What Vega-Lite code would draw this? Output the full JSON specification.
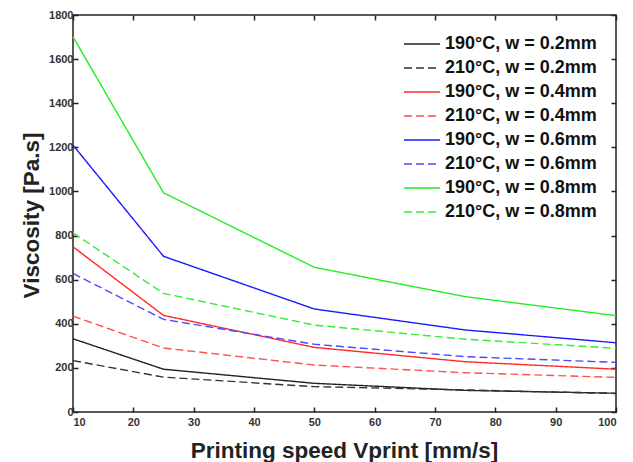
{
  "$schema": "https://vega.github.io/schema/vega-lite/v6.json",
  "width": 543,
  "height": 397,
  "autosize": {"type": "none"},
  "padding": {"left": 73, "top": 15, "right": 17, "bottom": 50},
  "background": "white",
  "config": {
    "font": "Liberation Sans",
    "view": {"stroke": "#222", "strokeWidth": 1.5},
    "axis": {
      "grid": false,
      "domain": false,
      "ticks": true,
      "tickColor": "#222",
      "tickWidth": 1.5,
      "tickSize": -5,
      "format": "d",
      "labelFont": "Liberation Sans",
      "labelFontWeight": "bold",
      "labelFontSize": 11,
      "labelColor": "#333",
      "titleFont": "Liberation Sans",
      "titleFontWeight": "bold",
      "titleFontSize": 22.5,
      "titleColor": "#222"
    }
  },
  "data": {
    "values": [
      {"speed": 10, "visc": 332, "series": "190°C, w = 0.2mm"},
      {"speed": 25, "visc": 194, "series": "190°C, w = 0.2mm"},
      {"speed": 50, "visc": 130, "series": "190°C, w = 0.2mm"},
      {"speed": 75, "visc": 98, "series": "190°C, w = 0.2mm"},
      {"speed": 100, "visc": 85, "series": "190°C, w = 0.2mm"},
      {"speed": 10, "visc": 233, "series": "210°C, w = 0.2mm"},
      {"speed": 25, "visc": 158, "series": "210°C, w = 0.2mm"},
      {"speed": 50, "visc": 115, "series": "210°C, w = 0.2mm"},
      {"speed": 75, "visc": 100, "series": "210°C, w = 0.2mm"},
      {"speed": 100, "visc": 84, "series": "210°C, w = 0.2mm"},
      {"speed": 10, "visc": 749, "series": "190°C, w = 0.4mm"},
      {"speed": 25, "visc": 438, "series": "190°C, w = 0.4mm"},
      {"speed": 50, "visc": 293, "series": "190°C, w = 0.4mm"},
      {"speed": 75, "visc": 228, "series": "190°C, w = 0.4mm"},
      {"speed": 100, "visc": 194, "series": "190°C, w = 0.4mm"},
      {"speed": 10, "visc": 435, "series": "210°C, w = 0.4mm"},
      {"speed": 25, "visc": 290, "series": "210°C, w = 0.4mm"},
      {"speed": 50, "visc": 213, "series": "210°C, w = 0.4mm"},
      {"speed": 75, "visc": 178, "series": "210°C, w = 0.4mm"},
      {"speed": 100, "visc": 157, "series": "210°C, w = 0.4mm"},
      {"speed": 10, "visc": 1210, "series": "190°C, w = 0.6mm"},
      {"speed": 25, "visc": 706, "series": "190°C, w = 0.6mm"},
      {"speed": 50, "visc": 467, "series": "190°C, w = 0.6mm"},
      {"speed": 75, "visc": 372, "series": "190°C, w = 0.6mm"},
      {"speed": 100, "visc": 314, "series": "190°C, w = 0.6mm"},
      {"speed": 10, "visc": 628, "series": "210°C, w = 0.6mm"},
      {"speed": 25, "visc": 420, "series": "210°C, w = 0.6mm"},
      {"speed": 50, "visc": 307, "series": "210°C, w = 0.6mm"},
      {"speed": 75, "visc": 251, "series": "210°C, w = 0.6mm"},
      {"speed": 100, "visc": 225, "series": "210°C, w = 0.6mm"},
      {"speed": 10, "visc": 1701, "series": "190°C, w = 0.8mm"},
      {"speed": 25, "visc": 994, "series": "190°C, w = 0.8mm"},
      {"speed": 50, "visc": 656, "series": "190°C, w = 0.8mm"},
      {"speed": 75, "visc": 523, "series": "190°C, w = 0.8mm"},
      {"speed": 100, "visc": 437, "series": "190°C, w = 0.8mm"},
      {"speed": 10, "visc": 812, "series": "210°C, w = 0.8mm"},
      {"speed": 25, "visc": 538, "series": "210°C, w = 0.8mm"},
      {"speed": 50, "visc": 394, "series": "210°C, w = 0.8mm"},
      {"speed": 75, "visc": 330, "series": "210°C, w = 0.8mm"},
      {"speed": 100, "visc": 289, "series": "210°C, w = 0.8mm"}
    ]
  },
  "layer": [
    {
      "mark": {"type": "line", "strokeWidth": 1.4},
      "encoding": {
        "x": {
          "field": "speed", "type": "quantitative",
          "scale": {"domain": [10, 100], "nice": false},
          "axis": {"orient": "bottom", "values": [10,20,30,40,50,60,70,80,90,100], "labelPadding": 9,
                   "title": "Printing speed Vprint [mm/s]", "titleBaseline": "alphabetic", "titleY": 45, "titleX": 271}
        },
        "y": {
          "field": "visc", "type": "quantitative",
          "scale": {"domain": [0, 1800], "nice": false},
          "axis": {"orient": "left", "values": [0,200,400,600,800,1000,1200,1400,1600,1800], "labelPadding": 5,
                   "title": "Viscosity [Pa.s]", "titleBaseline": "alphabetic", "titleX": -35, "titleY": 200, "titleAngle": -90}
        },
        "color": {
          "field": "series", "type": "nominal",
          "scale": {
            "domain": ["190°C, w = 0.2mm","210°C, w = 0.2mm","190°C, w = 0.4mm","210°C, w = 0.4mm","190°C, w = 0.6mm","210°C, w = 0.6mm","190°C, w = 0.8mm","210°C, w = 0.8mm"],
            "range": ["#222222","#333333","#ff2a2a","#ff5050","#1a1aff","#4a4aff","#22ee22","#33ee33"]
          },
          "legend": {
            "title": null,
            "orient": "none",
            "legendX": 338,
            "legendY": 18,
            "padding": 0,
            "symbolType": "M-1.8,0H1.8",
            "symbolSize": 400,
            "symbolStrokeWidth": 1.6,
            "rowPadding": 4,
            "labelOffset": 12,
            "labelFont": "Liberation Sans",
            "labelFontWeight": "bold",
            "labelFontSize": 18,
            "labelColor": "#111",
            "labelLimit": 300
          }
        },
        "strokeDash": {
          "field": "series", "type": "nominal",
          "scale": {
            "domain": ["190°C, w = 0.2mm","210°C, w = 0.2mm","190°C, w = 0.4mm","210°C, w = 0.4mm","190°C, w = 0.6mm","210°C, w = 0.6mm","190°C, w = 0.8mm","210°C, w = 0.8mm"],
            "range": [[1,0],[8,4],[1,0],[8,4],[1,0],[8,4],[1,0],[8,4]]
          },
          "legend": {
            "title": null,
            "orient": "none",
            "legendX": 338,
            "legendY": 18,
            "padding": 0,
            "symbolType": "M-1.8,0H1.8",
            "symbolSize": 400,
            "symbolStrokeWidth": 1.6,
            "rowPadding": 4,
            "labelOffset": 12,
            "labelFont": "Liberation Sans",
            "labelFontWeight": "bold",
            "labelFontSize": 18,
            "labelColor": "#111",
            "labelLimit": 300
          }
        }
      }
    },
    {
      "mark": {"type": "point", "opacity": 0},
      "encoding": {
        "x": {"field": "speed", "type": "quantitative",
              "axis": {"orient": "top", "values": [10,20,30,40,50,60,70,80,90,100], "labels": false, "title": null}},
        "y": {"field": "visc", "type": "quantitative",
              "axis": {"orient": "right", "values": [0,200,400,600,800,1000,1200,1400,1600,1800], "labels": false, "title": null}}
      }
    }
  ],
  "resolve": {"axis": {"x": "independent", "y": "independent"}}
}
